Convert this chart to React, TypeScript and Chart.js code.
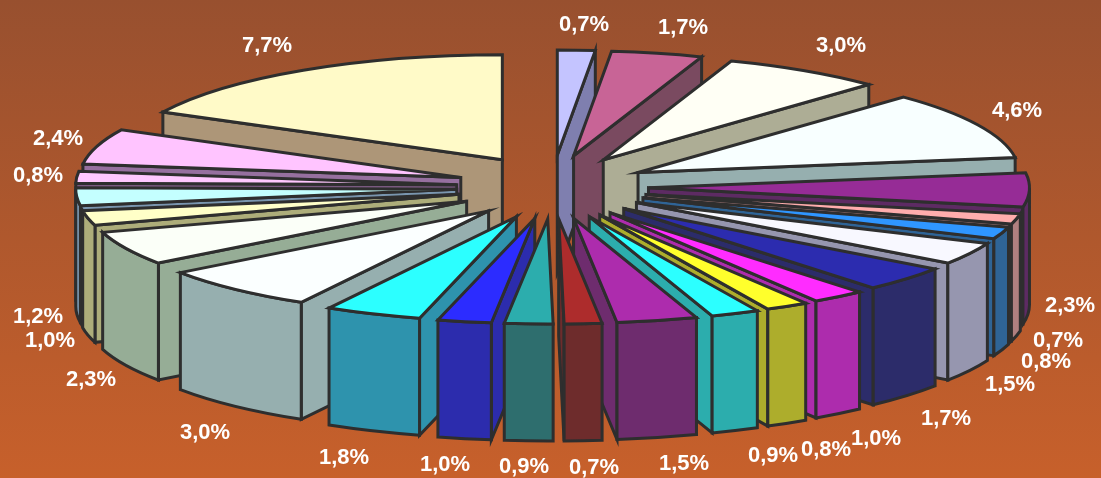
import React, { useEffect, useRef } from "react";
import { Chart, registerables } from "chart.js";

Chart.register(...registerables);

const sliceNames = ["s01","s02","s03","s04","s05","s06","s07","s08","s09","s10","s11","s12","s13","s14","s15","s16","s17","s18","s19","s20","s21","s22","s23","s24"];
const shares = [0.7, 1.7, 3.0, 4.6, 2.3, 0.7, 0.8, 1.5, 1.7, 1.0, 0.8, 0.9, 1.5, 0.7, 0.9, 1.0, 1.8, 3.0, 2.3, 1.0, 1.2, 0.8, 2.4, 7.7];
const faceColors = ["#C4C4FF","#C86496","#FFFFF5","#F8FFFF","#962C96","#FFADAD","#2F96FF","#F8F8FF","#2C2CAF","#FF2CFF","#FFFF2C","#2CFFFF","#AD2CAD","#AD2C2C","#2CADAD","#2C2CFF","#2CFFFF","#FBFFFF","#FBFFF8","#FFFFC8","#C4FFFF","#FFC8FF","#FFC4FF","#FFFAC8"];
const wallColors = ["#7F7FAF","#7A4A60","#ADAD95","#96AFAF","#5D2B63","#AF7F7F","#2F6496","#9696AF","#2C2C6A","#AD2CAD","#ADAD2C","#2CADAD","#6E2C6E","#6E2C2C","#2E6E6E","#2C2CAD","#2E93AD","#96AFAF","#96AD96","#ADAD7A","#7A96AF","#7A5A80","#96709F","#AD9678"];
const labelAnchors = [[584,25],[683,28],[841,46],[1017,111],[1070,306],[1058,341],[1046,362],[1010,385],[946,419],[876,439],[826,450],[773,456],[684,464],[594,468],[524,467],[445,465],[344,458],[205,433],[91,380],[50,341],[38,317],[38,176],[58,139],[267,46]];

const SQUASH = 0.2756;
const EXPLODE_X = 96;
const EXPLODE_Y = 32;
const DEPTH = 117;
const OUTLINE = "#2E2E2E";

const pie3d = {
  id: "pie3d",
  beforeDatasetsDraw(chart: any) {
    const { ctx } = chart;
    const meta = chart.getDatasetMeta(0);
    const order = meta.data
      .map((arc: any, i: number) => ({ arc, i, mid: (arc.startAngle + arc.endAngle) / 2 }))
      .sort((a: any, b: any) => Math.sin(a.mid) - Math.sin(b.mid));

    ctx.save();
    ctx.lineWidth = 3;
    ctx.strokeStyle = OUTLINE;
    ctx.lineJoin = "miter";
    ctx.miterLimit = 10;

    for (const { arc, i, mid } of order) {
      const cx = arc.x + Math.cos(mid) * EXPLODE_X;
      const cy = arc.y + Math.sin(mid) * EXPLODE_Y;
      const R = arc.outerRadius;
      const ry = R * SQUASH;
      const s = arc.startAngle;
      const e = arc.endAngle;
      const pt = (a: number) => [cx + Math.cos(a) * R, cy + Math.sin(a) * ry];

      const paint = (build: () => void, color: string) => {
        ctx.beginPath();
        build();
        ctx.closePath();
        ctx.fillStyle = color;
        ctx.fill();
        ctx.stroke();
      };
      const radialWall = (a: number) => {
        const [x, y] = pt(a);
        paint(() => {
          ctx.moveTo(cx, cy);
          ctx.lineTo(x, y);
          ctx.lineTo(x, y + DEPTH);
          ctx.lineTo(cx, cy + DEPTH);
        }, wallColors[i]);
      };

      // Only the walls that turn toward the viewer are painted.
      const startVisible = Math.cos(s) < 0;
      const endVisible = Math.cos(e) > 0;
      if (startVisible) radialWall(s);
      if (endVisible) radialWall(e);

      // Outer rim: the part of the arc on the near half of the ellipse.
      const from = Math.max(s, 0);
      const to = Math.min(e, Math.PI);
      if (to > from) {
        paint(() => {
          ctx.ellipse(cx, cy, R, ry, 0, from, to);
          ctx.ellipse(cx, cy + DEPTH, R, ry, 0, to, from, true);
        }, wallColors[i]);
      }

      // Top face: the library's own arc element, flattened and moved out.
      ctx.save();
      ctx.translate(cx, cy);
      ctx.scale(1, SQUASH);
      ctx.translate(-arc.x, -arc.y);
      arc.draw(ctx);
      ctx.restore();

      ctx.beginPath();
      ctx.moveTo(cx, cy);
      ctx.ellipse(cx, cy, R, ry, 0, s, e);
      ctx.closePath();
      ctx.stroke();
    }

    ctx.font = 'bold 22px "Liberation Sans"';
    ctx.textAlign = "center";
    ctx.textBaseline = "middle";
    ctx.fillStyle = "#FFFFFF";
    shares.forEach((v, i) => {
      ctx.fillText(v.toFixed(1).replace(".", ",") + "%", labelAnchors[i][0], labelAnchors[i][1]);
    });
    ctx.restore();
    return false;
  },
};

export default function App() {
  const ref = useRef<HTMLCanvasElement>(null);
  useEffect(() => {
    document.body.style.margin = "0";
    const chart = new Chart(ref.current!, {
      type: "pie",
      data: {
        labels: sliceNames,
        datasets: [{ data: shares, backgroundColor: faceColors, borderWidth: 0, clip: false } as any],
      },
      options: {
        responsive: false,
        animation: false,
        radius: 381,
        events: [],
        layout: { padding: { left: 4, bottom: 104 } },
        plugins: { legend: { display: false }, tooltip: { enabled: false } },
      } as any,
      plugins: [pie3d as any],
    });
    return () => chart.destroy();
  }, []);
  return (
    <div style={{ width: 1101, height: 478, overflow: "hidden", background: "linear-gradient(180deg, #98502F 0%, #C7602B 100%)" }}>
      <canvas ref={ref} width={1101} height={478} style={{ display: "block" }} />
    </div>
  );
}
